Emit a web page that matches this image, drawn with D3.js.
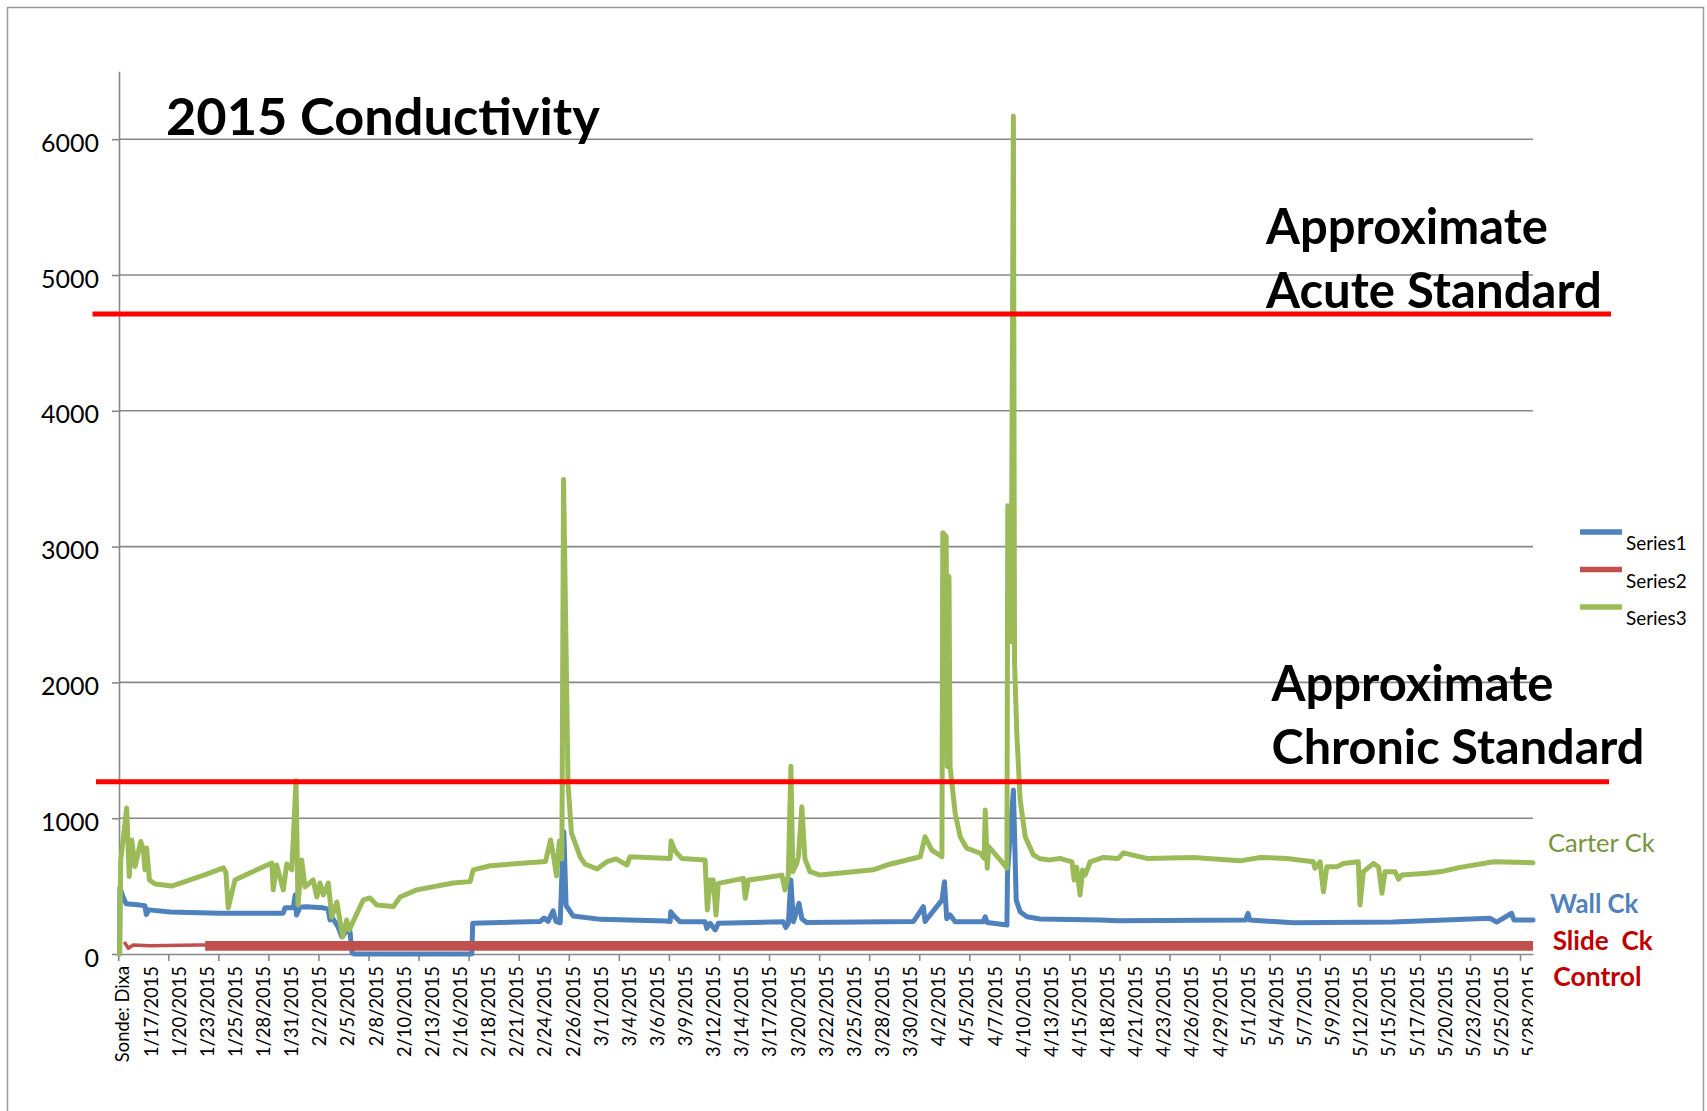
<!DOCTYPE html>
<html><head><meta charset="utf-8">
<script src="https://cdn.jsdelivr.net/npm/d3@7"></script>
<style>body{margin:0;background:#fff;} svg{display:block}</style>
</head><body><svg id="chart" width="1707" height="1111"></svg>
<script>
// ---------- DATA ----------
const categoryLabels = ["Sonde: Dixa","1/17/2015","1/20/2015","1/23/2015","1/25/2015","1/28/2015","1/31/2015","2/2/2015","2/5/2015","2/8/2015","2/10/2015","2/13/2015","2/16/2015","2/18/2015","2/21/2015","2/24/2015","2/26/2015","3/1/2015","3/4/2015","3/6/2015","3/9/2015","3/12/2015","3/14/2015","3/17/2015","3/20/2015","3/22/2015","3/25/2015","3/28/2015","3/30/2015","4/2/2015","4/5/2015","4/7/2015","4/10/2015","4/13/2015","4/15/2015","4/18/2015","4/21/2015","4/23/2015","4/26/2015","4/29/2015","5/1/2015","5/4/2015","5/7/2015","5/9/2015","5/12/2015","5/15/2015","5/17/2015","5/20/2015","5/23/2015","5/25/2015","5/28/2015"];
const yTicks = [0,1000,2000,3000,4000,5000,6000];
const xTickStart = -0.171, xTickStep = 1.7796, xTickCount = 29;

// [category position, conductivity]
const carterCk = [[-0.12,0],[-0.08,690],[0.13,1075],[0.22,570],[0.31,840],[0.43,645],[0.63,828],[0.72,766],[0.78,620],[0.84,780],[0.94,545],[1.14,516],[1.73,500],[2.38,545],[3.0,590],[3.57,634],[3.66,597],[3.74,339],[3.98,545],[4.51,597],[5.29,670],[5.34,472],[5.46,656],[5.70,472],[5.82,663],[6.00,619],[6.15,1275],[6.22,361],[6.35,693],[6.47,494],[6.76,545],[6.89,420],[7.00,523],[7.12,435],[7.30,523],[7.42,273],[7.60,383],[7.81,125],[7.95,250],[8.04,177],[8.54,398],[8.78,413],[9.02,361],[9.61,349],[9.85,420],[10.44,472],[11.74,523],[12.34,533],[12.45,619],[13.05,650],[15.02,682],[15.20,840],[15.32,700],[15.41,575],[15.51,830],[15.60,700],[15.66,3495],[15.82,1247],[15.94,892],[16.25,715],[16.42,663],[16.85,626],[17.2,680],[17.53,700],[17.91,655],[18.02,716],[19.45,704],[19.48,832],[19.62,760],[19.86,704],[20.69,692],[20.77,324],[20.87,545],[20.98,545],[21.08,287],[21.16,520],[22.05,557],[22.12,410],[22.23,545],[22.76,560],[23.42,581],[23.53,471],[23.65,581],[23.74,1383],[23.81,606],[23.95,667],[24.01,720],[24.13,1084],[24.24,700],[24.42,606],[24.78,581],[25.96,606],[26.67,620],[27.15,655],[28.34,716],[28.51,863],[28.75,765],[29.11,716],[29.14,3102],[29.26,3075],[29.30,1380],[29.36,2780],[29.40,1380],[29.58,1037],[29.76,864],[29.99,779],[30.47,742],[30.61,705],[30.65,1061],[30.72,632],[30.77,791],[31.18,693],[31.42,632],[31.45,3300],[31.51,3260],[31.57,2300],[31.65,6170],[31.69,2150],[31.77,1628],[31.89,1135],[32.07,864],[32.36,730],[32.60,701],[32.95,693],[33.31,704],[33.73,679],[33.81,545],[33.90,640],[34.02,434],[34.11,618],[34.20,581],[34.38,679],[34.85,711],[35.38,704],[35.56,745],[36.39,704],[38.05,711],[39.71,686],[40.42,711],[41.37,704],[42.31,679],[42.37,631],[42.55,679],[42.67,458],[42.79,642],[43.15,642],[43.38,667],[43.91,679],[43.97,361],[44.09,606],[44.45,667],[44.63,640],[44.75,447],[44.86,606],[45.22,606],[45.34,550],[45.46,581],[46.35,594],[46.94,610],[47.53,638],[48.72,679],[50.12,672]];

const wallCk = [[-0.12,0],[-0.11,490],[0.0,420],[0.11,370],[0.60,360],[0.78,355],[0.83,290],[0.92,325],[1.67,310],[3.45,300],[5.69,300],[5.76,340],[6.05,340],[6.12,434],[6.17,287],[6.29,345],[6.51,348],[7.11,340],[7.29,330],[7.36,250],[7.46,260],[7.64,201],[7.78,127],[7.92,164],[8.07,164],[8.14,10],[8.21,0],[12.40,0],[12.43,227],[14.83,240],[14.97,265],[15.11,240],[15.29,318],[15.39,240],[15.54,230],[15.61,636],[15.67,900],[15.75,357],[16.00,280],[16.98,255],[19.30,243],[19.45,240],[19.47,311],[19.62,274],[19.80,238],[20.69,238],[20.75,189],[20.87,226],[21.05,177],[21.16,226],[23.47,238],[23.56,196],[23.65,226],[23.74,545],[23.83,238],[24.03,373],[24.13,260],[24.30,232],[28.10,240],[28.45,348],[28.51,240],[29.11,397],[29.20,532],[29.28,260],[29.40,287],[29.58,238],[30.58,238],[30.65,274],[30.72,232],[31.42,213],[31.44,594],[31.65,1207],[31.75,397],[31.89,311],[32.13,274],[32.60,258],[34.73,250],[35.38,245],[39.90,250],[39.99,300],[40.05,250],[41.60,230],[45.15,235],[48.59,263],[48.83,235],[49.36,300],[49.44,250],[50.12,250]];

const slideCk = [[0.07,80],[0.19,42],[0.36,66],[0.96,61],[2.70,66],[2.92,66]];
// dense logging section: [position, min, max]
const slideCkDense = [[2.92,24,96],[50.12,24,96]];

const acuteStandard = 4712, chronicStandard = 1268;
const legendNames = ["Series1","Series2","Series3"];

// ---------- LAYOUT ----------
const svg = d3.select("#chart");
const FONT = "Lato, Carlito, 'Open Sans', sans-serif";
const C = {blue:"#4F81BD", red:"#C0504D", green:"#9BBB59", grid:"#888888"};

function fitSize(text, weight, target){
  const t = svg.append("text").attr("font-family",FONT).attr("font-weight",weight)
    .attr("font-size",100).style("white-space","pre").text(text);
  const w = t.node().getComputedTextLength(); t.remove();
  return 100*target/w;
}

svg.append("rect").attr("x",7.5).attr("y",7.5).attr("width",1696).attr("height",1120)
  .attr("fill","#fff").attr("stroke","#9a9a9a").attr("stroke-width",1.5);

const x = d3.scaleLinear().domain([-0.16, 50.12]).range([118.5, 1533]);
const y = d3.scaleLinear().domain([0, 6500]).range([954, 71.3]);

// gridlines
svg.append("g").selectAll("line").data(yTicks.filter(d=>d>0)).join("line")
  .attr("x1",119).attr("x2",1533).attr("y1",d=>y(d)).attr("y2",d=>y(d))
  .attr("stroke",C.grid).attr("stroke-width",1.6);

// y axis
const yFs = fitSize("6000", 400, 58);
const yAx = svg.append("g").attr("transform","translate(119,0)")
  .call(d3.axisLeft(y).tickValues(yTicks).tickFormat(d3.format("d")).tickSize(7).tickSizeOuter(0).tickPadding(13));
yAx.select(".domain").attr("stroke",C.grid).attr("stroke-width",1.6);
yAx.selectAll(".tick line").attr("stroke",C.grid).attr("stroke-width",1.6);
yAx.selectAll(".tick text").attr("font-family",FONT).attr("font-size",yFs).attr("fill","#000")
  .attr("y",4);

// x axis
const xTickValues = d3.range(xTickCount).map(k=>xTickStart+k*xTickStep);
const xAx = svg.append("g").attr("transform","translate(0,954)")
  .call(d3.axisBottom(x).tickValues(xTickValues).tickSize(7).tickSizeOuter(0).tickFormat(""));
xAx.select(".domain").attr("stroke",C.grid).attr("stroke-width",1.6);
xAx.selectAll(".tick line").attr("stroke",C.grid).attr("stroke-width",1.6);

// x labels
svg.append("clipPath").attr("id","lblclip").append("rect").attr("x",0).attr("y",0).attr("width",1533).attr("height",1111);
const xFs = fitSize("1/17/2015", 400, 91);
svg.append("g").attr("clip-path","url(#lblclip)").selectAll("text").data(categoryLabels).join("text")
  .attr("transform",(d,i)=>`translate(${x(i)},966) rotate(-90)`)
  .attr("text-anchor","end").attr("dy","0.35em")
  .attr("font-family",FONT).attr("font-size",xFs).attr("fill","#000").text(d=>d);

// series
const line = d3.line().x(d=>x(d[0])).y(d=>y(d[1]));
svg.append("path").datum(wallCk).attr("d",line).attr("fill","none")
  .attr("stroke",C.blue).attr("stroke-width",5).attr("stroke-linejoin","round").attr("stroke-linecap","round");
svg.append("path").datum(slideCk).attr("d",line).attr("fill","none")
  .attr("stroke",C.red).attr("stroke-width",3.5).attr("stroke-linejoin","round").attr("stroke-linecap","round");
svg.append("path").datum(slideCkDense)
  .attr("d",d3.area().x(d=>x(d[0])).y0(d=>y(d[1])).y1(d=>y(d[2])))
  .attr("fill",C.red);
svg.append("path").datum(carterCk).attr("d",line).attr("fill","none")
  .attr("stroke",C.green).attr("stroke-width",5).attr("stroke-linejoin","round").attr("stroke-linecap","round");

// standard lines
[acuteStandard, chronicStandard].forEach((v,k)=>{
  svg.append("line").attr("x1",k?96:92.5).attr("x2",k?1609:1611).attr("y1",y(v)).attr("y2",y(v))
    .attr("stroke","#FF0000").attr("stroke-width",5);
});

// legend
legendNames.forEach((n,k)=>{
  const cy = 532 + k*37.5;
  svg.append("line").attr("x1",1580).attr("x2",1622).attr("y1",cy).attr("y2",cy)
    .attr("stroke",[C.blue,C.red,C.green][k]).attr("stroke-width",5.3);
  svg.append("text").attr("x",1626).attr("y",cy+18.3).attr("font-family",FONT)
    .attr("font-size",fitSize(n,400,60.7)).attr("fill","#000").text(n);
});

// annotations
function label(txt, xx, yy, weight, target, color){
  svg.append("text").attr("x",xx).attr("y",yy).attr("font-family",FONT).attr("font-weight",weight)
    .attr("font-size",fitSize(txt,weight,target)).attr("fill",color).style("white-space","pre").text(txt);
}
label("2015 Conductivity",166,135,700,434,"#000");
label("Approximate",1266,243.5,700,282,"#000");
label("Acute Standard",1266,308,700,336,"#000");
label("Approximate",1271.5,700.5,700,282,"#000");
label("Chronic Standard",1271.5,764,700,373,"#000");
label("Carter Ck",1548,851.7,400,106.7,"#77933C");
label("Wall Ck",1550,913.3,700,88.3,"#4F81BD");
label("Slide  Ck",1552.7,950,700,100,"#C00000");
label("Control",1553.3,986,700,88.3,"#C00000");
</script></body></html>
